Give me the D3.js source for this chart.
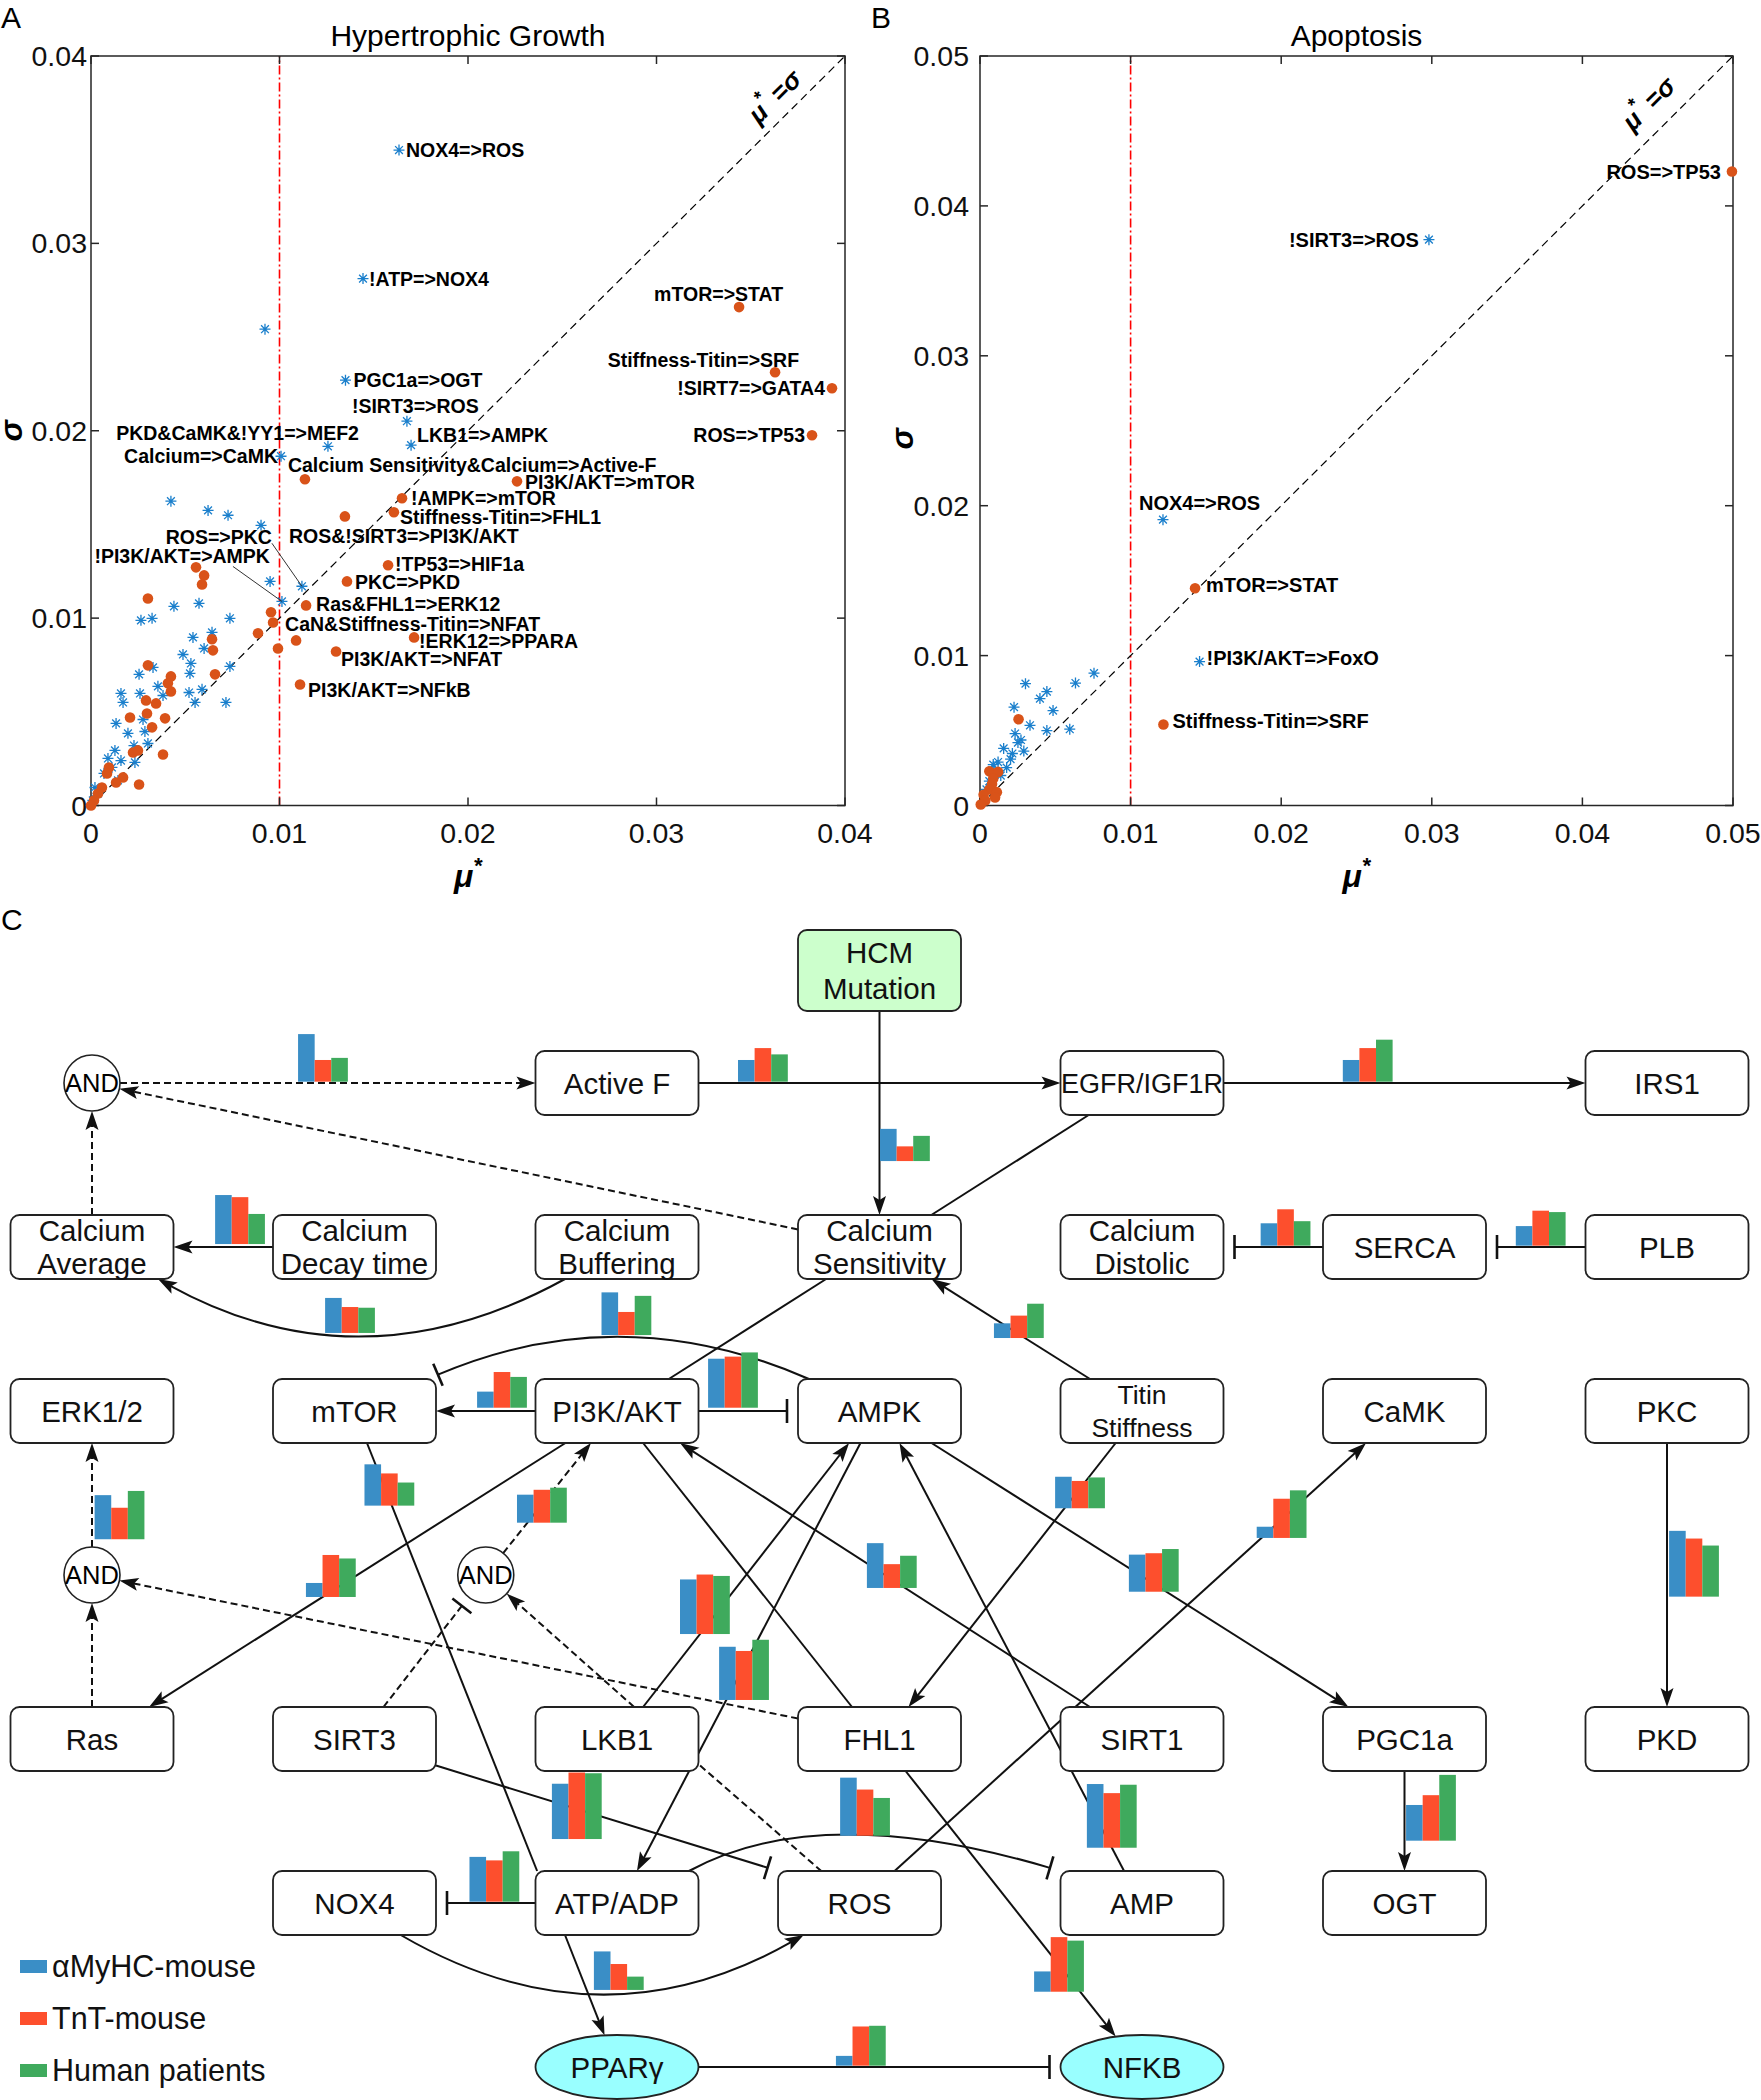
<!DOCTYPE html>
<html><head><meta charset="utf-8">
<script src="https://cdn.jsdelivr.net/npm/d3@7"></script>
<style>body{margin:0;background:#fff}svg text{font-family:"Liberation Sans",Arial,Helvetica,sans-serif}</style>
</head><body><svg id="c" width="1761" height="2100"></svg>
<script>
// ---------------- DATA ----------------
// Panel A: Hypertrophic Growth (mu*, sigma)
const hgTicks=[0,0.01,0.02,0.03,0.04];
const hgBlue=[[0.00923,0.02542],[0.00424,0.01624],[0.00621,0.01575],[0.00727,0.01549],[0.00902,0.01495],[0.0095,0.01196],[0.0044,0.01063],[0.00573,0.01079],[0.00265,0.00988],[0.00324,0.00999],[0.00737,0.00999],[0.00642,0.00924],[0.00541,0.00897],[0.006,0.00838],[0.00488,0.00806],[0.0053,0.00758],[0.00329,0.00737],[0.00737,0.00742],[0.00255,0.007],[0.00525,0.00705],[0.00159,0.00598],[0.0026,0.00598],[0.00355,0.00636],[0.0052,0.00603],[0.00589,0.0062],[0.0017,0.0055],[0.00382,0.00587],[0.00552,0.0055],[0.00716,0.0055],[0.00133,0.00438],[0.00276,0.00459],[0.00196,0.00385],[0.00286,0.00395],[0.00302,0.00331],[0.00228,0.0032],[0.0009,0.00251],[0.00127,0.00294],[0.00159,0.0024],[0.00233,0.0023],[0.00111,0.00203],[0.00069,0.00171],[0.00143,0.00134],[0.00021,0.00096],[0.00037,0.00064],[0.0001,0.00027]];
const hgBlueNamed=[["NOX4=>ROS",0.01634,0.03498],["!ATP=>NOX4",0.01443,0.02812],["PGC1a=>OGT",0.0135,0.0227],["!SIRT3=>ROS",0.01676,0.02051],["LKB1=>AMPK",0.01698,0.01923],["PKD&CaMK&!YY1=>MEF2",0.01257,0.01917],["Calcium=>CaMK",0.01008,0.01864],["ROS=>PKC",0.01119,0.0117],["!PI3K/AKT=>AMPK",0.01013,0.01089]];
const hgOrange=[[0.00557,0.01271],[0.006,0.01228],[0.00589,0.0118],[0.00302,0.01105],[0.00955,0.01031],[0.00886,0.00919],[0.00992,0.00838],[0.01088,0.00881],[0.00642,0.00887],[0.00647,0.00828],[0.00302,0.00748],[0.00424,0.00689],[0.00408,0.00652],[0.00658,0.007],[0.00424,0.00609],[0.00292,0.00561],[0.00345,0.00545],[0.00297,0.00491],[0.00207,0.0047],[0.00393,0.00465],[0.00324,0.00417],[0.00223,0.00283],[0.00249,0.00294],[0.00382,0.00272],[0.00095,0.00203],[0.00085,0.00171],[0.0017,0.0015],[0.00133,0.00123],[0.00255,0.00112],[0.00058,0.00096],[0.00037,0.00064],[0.00016,0.00027],[0,0]];
const hgOrangeNamed=[["mTOR=>STAT",0.03438,0.0266],["Stiffness-Titin=>SRF",0.03629,0.02312],["!SIRT7=>GATA4",0.03931,0.02227],["ROS=>TP53",0.03825,0.01976],["Calcium Sensitivity&Calcium=>Active-F",0.01135,0.01741],["PI3K/AKT=>mTOR",0.0226,0.0173],["!AMPK=>mTOR",0.0165,0.0164],["Stiffness-Titin=>FHL1",0.01607,0.01565],["ROS&!SIRT3=>PI3K/AKT",0.01347,0.01543],["!TP53=>HIF1a",0.01576,0.01282],["PKC=>PKD",0.01358,0.01196],["Ras&FHL1=>ERK12",0.01141,0.01068],["CaN&Stiffness-Titin=>NFAT",0.00966,0.00977],["!ERK12=>PPARA",0.01714,0.00897],["PI3K/AKT=>NFAT",0.013,0.00822],["PI3K/AKT=>NFkB",0.01109,0.00646]];

// Panel B: Apoptosis
const apTicks=[0,0.01,0.02,0.03,0.04,0.05];
const apBlue=[[0.00302,0.00813],[0.00444,0.0076],[0.00634,0.00817],[0.00757,0.00883],[0.00398,0.00713],[0.00226,0.00656],[0.00485,0.00633],[0.00332,0.00535],[0.00444,0.005],[0.00596,0.00509],[0.00233,0.0048],[0.00272,0.00437],[0.00157,0.00381],[0.00291,0.00363],[0.00215,0.00347],[0.00203,0.00309],[0.0012,0.0029],[0.00177,0.00253],[0.0008,0.00235],[0.00138,0.002],[0.00062,0.00162],[0.00043,0.00107],[0.00088,0.00273],[0.00252,0.0042]];
const apBlueNamed=[["!SIRT3=>ROS",0.02981,0.03775],["NOX4=>ROS",0.01215,0.01907],["!PI3K/AKT=>FoxO",0.01458,0.0096]];
const apOrange=[[0.00256,0.00575],[0.00062,0.00228],[0.0012,0.00224],[0.00088,0.0018],[0.0008,0.00144],[0.00062,0.00107],[0.00112,0.00089],[0.00024,0.00071],[0.00035,0.00033],[0.00005,0.00007],[0.001,0.00053]];
const apOrangeNamed=[["ROS=>TP53",0.04993,0.04229],["mTOR=>STAT",0.01428,0.01449],["Stiffness-Titin=>SRF",0.01218,0.0054]];

// Panel C: network
const legendLabels=["αMyHC-mouse","TnT-mouse","Human patients"];
const seriesColors=["#3A8EC6","#FD4F2D","#3FAA5D"];
// mini bar values per edge (αMyHC-mouse, TnT-mouse, Human patients), relative units
const miniBars=[[0.68,0.31,0.34],[0.31,0.48,0.39],[0.46,0.21,0.36],[0.31,0.48,0.60],[0.70,0.67,0.43],[0.50,0.37,0.36],[0.21,0.32,0.49],[0.32,0.52,0.35],[0.28,0.50,0.48],[0.23,0.51,0.44],[0.70,0.73,0.79],[0.61,0.33,0.56],[0.63,0.45,0.69],[0.20,0.60,0.55],[0.40,0.47,0.50],[0.59,0.46,0.33],[0.64,0.34,0.46],[0.78,0.85,0.83],[0.76,0.70,0.86],[0.53,0.55,0.61],[0.45,0.39,0.44],[0.16,0.56,0.68],[0.94,0.83,0.73],[0.91,0.78,0.90],[0.79,0.95,0.94],[0.29,0.78,0.73],[0.83,0.66,0.54],[0.55,0.37,0.19],[0.64,0.59,0.72],[0.14,0.56,0.57],[0.51,0.65,0.94]];

// ---------------- LAYOUT ----------------
const labelLayoutA={"NOX4=>ROS":["start",7,0],"!ATP=>NOX4":["start",6,0],"mTOR=>STAT":["end",44,-13],"Stiffness-Titin=>SRF":["end",24,-12],"!SIRT7=>GATA4":["end",-7,0],"ROS=>TP53":["end",-7,0],"PGC1a=>OGT":["start",8,0],"!SIRT3=>ROS":["start",-55,-15],"LKB1=>AMPK":["start",6,-10],"PKD&CaMK&!YY1=>MEF2":["end",31,-13],"Calcium=>CaMK":["end",-3,0],"Calcium Sensitivity&Calcium=>Active-F":["start",-17,-14],"PI3K/AKT=>mTOR":["start",8,1],"!AMPK=>mTOR":["start",9,0],"Stiffness-Titin=>FHL1":["start",6,5],"ROS&!SIRT3=>PI3K/AKT":["start",-56,20],"!TP53=>HIF1a":["start",7,-1],"PKC=>PKD":["start",8,1],"Ras&FHL1=>ERK12":["start",10,-1],"CaN&Stiffness-Titin=>NFAT":["start",12,2],"!ERK12=>PPARA":["start",5,4],"PI3K/AKT=>NFAT":["start",5,8],"PI3K/AKT=>NFkB":["start",8,6],"ROS=>PKC":["end",-30,-49,-30,-43],"!PI3K/AKT=>AMPK":["end",-12,-45,-49,-35]};
const labelLayoutB={"ROS=>TP53":["end",-11,0],"!SIRT3=>ROS":["end",-10,0],"NOX4=>ROS":["start",-24,-17],"mTOR=>STAT":["start",11,-3],"!PI3K/AKT=>FoxO":["start",7,-4],"Stiffness-Titin=>SRF":["start",9,-4]};

// node grid (col,row)
const nodeGrid=[["AND1",0,0,"and"],["Active F",2,0,"box"],["HCM\nMutation",3,-0.686,"hcm"],["EGFR/IGF1R",4,0,"box"],["IRS1",6,0,"box"],
["Calcium\nAverage",0,1,"box"],["Calcium\nDecay time",1,1,"box"],["Calcium\nBuffering",2,1,"box"],["Calcium\nSensitivity",3,1,"box"],["Calcium\nDistolic",4,1,"box"],["SERCA",5,1,"box"],["PLB",6,1,"box"],
["ERK1/2",0,2,"box"],["mTOR",1,2,"box"],["PI3K/AKT",2,2,"box"],["AMPK",3,2,"box"],["Titin\nStiffness",4,2,"box"],["CaMK",5,2,"box"],["PKC",6,2,"box"],
["AND2",0,3,"and"],["AND3",1.5,3,"and"],
["Ras",0,4,"box"],["SIRT3",1,4,"box"],["LKB1",2,4,"box"],["FHL1",3,4,"box"],["SIRT1",4,4,"box"],["PGC1a",5,4,"box"],["PKD",6,4,"box"],
["NOX4",1,5,"box"],["ATP/ADP",2,5,"box"],["ROS",2.924,5,"box"],["AMP",4,5,"box"],["OGT",5,5,"box"],
["PPARγ",2,6,"ell"],["NFKB",4,6,"ell"]];
const edges=[
["AND1",0,0,"Active F",-1,0,"arrow",true],
["Active F",1,0,"EGFR/IGF1R",-1,0,"arrow",false],
["HCM\nMutation",0,1,"Calcium\nSensitivity",0,-1,"arrow",false],
["EGFR/IGF1R",1,0,"IRS1",-1,0,"arrow",false],
["EGFR/IGF1R",-0.654,1,"Calcium\nSensitivity",0.636,-1,"none",false],
["Calcium\nSensitivity",-1,-0.55,"AND1",0,0,"arrow",true],
["Calcium\nAverage",0,-1,"AND1",0,0,"arrow",true],
["Calcium\nDecay time",-1,0,"Calcium\nAverage",1,0,"arrow",false],
["Calcium\nBuffering",-0.638,1,"Calcium\nAverage",0.81,1,"arrow",false,[1.025,1.878]],
["Calcium\nSensitivity",-0.655,1,"PI3K/AKT",0.636,-1,"none",false],
["Titin\nStiffness",-0.638,-1,"Calcium\nSensitivity",0.638,1,"arrow",false],
["SERCA",-1,0,"Calcium\nDistolic",1,0,"bar",false],
["PLB",-1,0,"SERCA",1,0,"bar",false],
["PI3K/AKT",-1,0,"mTOR",1,0,"arrow",false],
["PI3K/AKT",1,0,"AMPK",-1,0,"bar",false],
["AMPK",-0.866,-1,"mTOR",0.9,-1,"bar",false,[2.015,1.303]],
["AND2",0,0,"ERK1/2",0,1,"arrow",true],
["Ras",0,-1,"AND2",0,0,"arrow",true],
["FHL1",-1,-0.64,"AND2",0,0,"arrow",true],
["PI3K/AKT",-0.633,1,"Ras",0.70,-1,"arrow",false],
["SIRT3",0.356,-1,"AND3",0,0,"bar",true],
["AND3",0,0,"PI3K/AKT",-0.32,1,"arrow",true],
["LKB1",0.21,-1,"AND3",0,0,"arrow",true],
["mTOR",0.153,1,"ATP/ADP",-0.98,-1,"none",false],
["PI3K/AKT",0.32,1,"FHL1",-0.337,-1,"none",false],
["SIRT1",-0.638,-1,"PI3K/AKT",0.773,1,"arrow",false],
["LKB1",0.32,-1,"AMPK",-0.373,1,"arrow",false],
["AMPK",-0.233,1,"ATP/ADP",0.245,-1,"arrow",false],
["AMPK",0.638,1,"PGC1a",-0.687,-1,"arrow",false],
["Titin\nStiffness",-0.323,1,"FHL1",0.356,-1,"arrow",false],
["ROS",0.43,-1,"CaMK",-0.472,1,"arrow",false],
["PKC",0,1,"PKD",0,-1,"arrow",false],
["AMP",-0.22,-1,"AMPK",0.245,1,"arrow",false],
["SIRT3",1,0.83,"ROS",-1,-1,"bar",false],
["LKB1",1.02,0.83,"ROS",-0.47,-1,"none",true],
["FHL1",0.32,1,"NFKB",-0.323,-0.95,"arrow",false],
["ATP/ADP",0.883,-1,"AMP",-1,-1,"bar",false,[2.773,4.369]],
["NOX4",0.567,1,"ROS",-0.685,1,"arrow",false,[1.935,5.902]],
["ATP/ADP",-1,0,"NOX4",1,0,"bar",false],
["ATP/ADP",-0.638,1,"PPARγ",-0.153,-0.99,"arrow",false],
["PPARγ",1,0,"NFKB",-1,0,"bar",false],
["PGC1a",0,1,"OGT",0,-1,"arrow",false]];
// mini bar chart anchors (left, baseline) in grid units
const miniAnchors=[[0.785,-0.008],[2.461,-0.008],[3.002,0.476],[4.765,-0.008],[0.469,0.982],[0.888,1.524],[3.436,1.555],[4.452,0.992],[5.424,0.992],[1.467,1.98],[2.347,1.98],[1.941,1.537],[0.01,2.782],[0.815,3.134],[1.619,2.681],[1.038,2.577],[2.952,3.079],[2.24,3.36],[2.389,3.762],[3.95,3.102],[3.669,2.593],[4.437,2.774],[6.008,3.132],[3.79,4.663],[1.752,4.61],[3.589,5.541],[2.85,4.59],[1.912,5.53],[1.438,4.992],[2.834,5.992],[5.006,4.62]];

// ---------------- DRAW ----------------
const svg=d3.select("#c");
const BLUE="#0072BD", ORANGE="#D95319";

function scatter(o){
  const g=svg.append("g");
  const x=d3.scaleLinear().domain([0,o.max]).range([o.left,o.right]);
  const y=d3.scaleLinear().domain([0,o.max]).range([o.bottom,o.top]);
  const fmt=d=>d===0?"0":d3.format(".2f")(d);
  g.append("line").attr("x1",x(0.01)).attr("x2",x(0.01)).attr("y1",y(0)).attr("y2",y(o.max))
    .attr("stroke","#FF0000").attr("stroke-width",1.6).attr("stroke-dasharray","9,3,2,3");
  g.append("line").attr("x1",x(0)).attr("y1",y(0)).attr("x2",x(o.max)).attr("y2",y(o.max))
    .attr("stroke","#000").attr("stroke-width",1.2).attr("stroke-dasharray","8,5");
  g.append("rect").attr("x",o.left).attr("y",o.top).attr("width",o.right-o.left).attr("height",o.bottom-o.top)
    .attr("fill","none").attr("stroke","#262626").attr("stroke-width",1.5);
  o.ticks.forEach(t=>{
    [[x(t),o.bottom,x(t),o.bottom-8],[x(t),o.top,x(t),o.top+8],[o.left,y(t),o.left+8,y(t)],[o.right,y(t),o.right-8,y(t)]]
      .forEach(l=>g.append("line").attr("x1",l[0]).attr("y1",l[1]).attr("x2",l[2]).attr("y2",l[3]).attr("stroke","#262626").attr("stroke-width",1.5));
    g.append("text").attr("x",x(t)).attr("y",o.bottom+37).attr("text-anchor","middle").attr("font-size",28.5).attr("fill","#111").text(fmt(t));
    g.append("text").attr("x",o.left-o.ygap).attr("y",y(t)+10).attr("text-anchor","end").attr("font-size",28.5).attr("fill","#111").text(fmt(t));
  });
  g.append("text").attr("x",(o.left+o.right)/2).attr("y",46).attr("text-anchor","middle").attr("font-size",30).text(o.title);
  g.append("text").attr("x",o.letterX).attr("y",28).attr("font-size",30).text(o.letter);
  g.append("text").attr("transform",`translate(${o.sigmaX},${o.sigmaY}) rotate(-90)`).attr("text-anchor","middle")
    .attr("font-size",32).attr("font-weight","bold").attr("font-style","italic").attr("dy","0.35em").text("σ");
  const mu=g.append("text").attr("x",(o.left+o.right)/2).attr("y",887).attr("text-anchor","middle")
    .attr("font-size",32).attr("font-weight","bold").attr("font-style","italic");
  mu.append("tspan").text("μ");
  mu.append("tspan").attr("font-size",22).attr("dy",-14).text("*");
  const ang=Math.atan2(y(o.max)-y(0),x(o.max)-x(0))*180/Math.PI;
  const dl=g.append("text").attr("transform",`translate(${o.diagX},${o.diagY}) rotate(${ang})`).attr("text-anchor","middle")
    .attr("font-size",26).attr("font-weight","bold").attr("font-style","italic");
  dl.append("tspan").text("μ");
  dl.append("tspan").attr("font-size",19).attr("dy",-13).text("*");
  dl.append("tspan").attr("dy",13).text(" =σ");
  const ast="M-5.5,0H5.5M0,-5.5V5.5M-3.9,-3.9L3.9,3.9M-3.9,3.9L3.9,-3.9";
  o.blue.concat(o.blueNamed.map(d=>[d[1],d[2]])).forEach(d=>
    g.append("path").attr("d",ast).attr("transform",`translate(${x(d[0])},${y(d[1])})`).attr("stroke","#1A7FCC").attr("stroke-width",1.3).attr("fill","none"));
  o.orange.concat(o.orangeNamed.map(d=>[d[1],d[2]])).forEach(d=>
    g.append("circle").attr("cx",x(d[0])).attr("cy",y(d[1])).attr("r",5.3).attr("fill",ORANGE));
  o.blueNamed.concat(o.orangeNamed).forEach(d=>{
    const L=o.layout[d[0]]; if(!L) return;
    const px=x(d[1]), py=y(d[2]);
    if(L.length>3){
      g.append("line").attr("x1",px+L[3]).attr("y1",py+L[4]).attr("x2",px).attr("y2",py).attr("stroke","#333").attr("stroke-width",1);
    }
    g.append("text").attr("x",px+L[1]).attr("y",py+L[2]).attr("dy","0.36em").attr("text-anchor",L[0])
      .attr("font-size",o.labelSize).attr("font-weight","bold").attr("fill","#000").text(d[0]);
  });
}

scatter({left:91,right:845,top:56,bottom:805.5,max:0.04,ticks:hgTicks,ygap:4,title:"Hypertrophic Growth",letter:"A",letterX:1,labelSize:19.5,
  sigmaX:11,sigmaY:431,diagX:781,diagY:103,blue:hgBlue,blueNamed:hgBlueNamed,orange:hgOrange,orangeNamed:hgOrangeNamed,layout:labelLayoutA});
scatter({left:980,right:1733,top:56,bottom:805.5,max:0.05,ticks:apTicks,ygap:11,title:"Apoptosis",letter:"B",letterX:871,labelSize:20,
  sigmaX:902,sigmaY:439,diagX:1655,diagY:110,blue:apBlue,blueNamed:apBlueNamed,orange:apOrange,orangeNamed:apOrangeNamed,layout:labelLayoutB});

// ---------- Panel C ----------
const gc=svg.append("g");
gc.append("text").attr("x",1).attr("y",930).attr("font-size",30).text("C");
const cx=d3.scaleLinear().domain([0,6]).range([92,1667]);
const cy=d3.scaleLinear().domain([0,6]).range([1083,2067]);
const HW=81.5,HH=32,AR=28;
const nodeMap={};
nodeGrid.forEach(([id,c,r,kind])=>nodeMap[id]={x:cx(c),y:cy(r),kind});
function anchor(id,ax,ay,other){
  const n=nodeMap[id];
  if(n.kind==="and"){const dx=other.x-n.x,dy=other.y-n.y,L=Math.hypot(dx,dy);return {x:n.x+AR*dx/L,y:n.y+AR*dy/L};}
  const hh=n.kind==="hcm"?40.5:HH;
  return {x:n.x+ax*HW,y:n.y+ay*hh};
}
const ge=gc.append("g");
edges.forEach(e=>{
  const [s,sax,say,t,tax,tay,head,dashed,ctrl]=e;
  const C=ctrl?{x:cx(ctrl[0]),y:cy(ctrl[1])}:null;
  let P0,P1;
  if(nodeMap[s].kind==="and"){P1=anchor(t,tax,tay);P0=anchor(s,0,0,C||P1);}
  else{P0=anchor(s,sax,say);P1=anchor(t,tax,tay,C||P0);}
  const from=C||P0;
  let dx=P1.x-from.x,dy=P1.y-from.y;const L=Math.hypot(dx,dy);dx/=L;dy/=L;
  let end=P1;
  if(head==="bar") end={x:P1.x-dx*11,y:P1.y-dy*11};
  if(head==="arrow") end={x:P1.x-dx*13,y:P1.y-dy*13};
  const d=C?`M${P0.x},${P0.y}Q${C.x},${C.y} ${end.x},${end.y}`:`M${P0.x},${P0.y}L${end.x},${end.y}`;
  ge.append("path").attr("d",d).attr("fill","none").attr("stroke","#111").attr("stroke-width",2)
    .attr("stroke-dasharray",dashed?"7,4":null);
  const px=-dy,py=dx;
  if(head==="arrow"){
    const bx=P1.x-dx*19,by=P1.y-dy*19;
    ge.append("path").attr("d",`M${P1.x},${P1.y}L${bx+px*6.5},${by+py*6.5}L${P1.x-dx*15},${P1.y-dy*15}L${bx-px*6.5},${by-py*6.5}Z`).attr("fill","#111");
  } else if(head==="bar"){
    ge.append("line").attr("x1",end.x+px*12).attr("y1",end.y+py*12).attr("x2",end.x-px*12).attr("y2",end.y-py*12)
      .attr("stroke","#111").attr("stroke-width",2.6);
  }
});
const hScale=d3.scaleLinear().domain([0,1]).range([0,70]);
const band=d3.scaleBand().domain([0,1,2]).range([0,49.8]);
const gb=gc.append("g");
miniBars.forEach((v,i)=>{
  const x0=cx(miniAnchors[i][0]),y0=cy(miniAnchors[i][1]);
  v.forEach((val,j)=>gb.append("rect").attr("x",x0+band(j)).attr("y",y0-hScale(val)).attr("width",band.bandwidth()).attr("height",hScale(val)).attr("fill",seriesColors[j]));
});
const gn=gc.append("g");
const fontFor={"EGFR/IGF1R":27,"Titin\nStiffness":26.5};
nodeGrid.forEach(([id,c,r,kind])=>{
  const n=nodeMap[id];
  if(kind==="and"){
    gn.append("circle").attr("cx",n.x).attr("cy",n.y).attr("r",AR).attr("fill","#fff").attr("stroke","#222").attr("stroke-width",1.6);
    gn.append("text").attr("x",n.x).attr("y",n.y).attr("dy","0.36em").attr("text-anchor","middle").attr("font-size",25.5).text("AND");
    return;
  }
  if(kind==="ell"){
    gn.append("ellipse").attr("cx",n.x).attr("cy",n.y).attr("rx",HW).attr("ry",HH).attr("fill","#99FFFF").attr("stroke","#222").attr("stroke-width",1.8);
  } else {
    const hh=kind==="hcm"?40.5:HH;
    gn.append("rect").attr("x",n.x-HW).attr("y",n.y-hh).attr("width",2*HW).attr("height",2*hh).attr("rx",9)
      .attr("fill",kind==="hcm"?"#CCFFCC":"#fff").attr("stroke","#222").attr("stroke-width",1.8);
  }
  const lines=id.split("\n");
  const fs=fontFor[id]||29.5;
  const gap=kind==="hcm"?36:33;
  lines.forEach((ln,k)=>{
    gn.append("text").attr("x",n.x).attr("y",n.y+(k-(lines.length-1)/2)*gap).attr("dy","0.36em").attr("text-anchor","middle")
      .attr("font-size",fs).attr("fill","#111").text(ln);
  });
});
const lgY=d3.scalePoint().domain(legendLabels).range([1966,2070]);
legendLabels.forEach((l,i)=>{
  gc.append("rect").attr("x",20).attr("y",lgY(l)-6).attr("width",27).attr("height",13).attr("fill",seriesColors[i]);
  gc.append("text").attr("x",52).attr("y",lgY(l)).attr("dy","0.36em").attr("font-size",30.5).attr("fill","#111").text(l);
});
</script></body></html>
